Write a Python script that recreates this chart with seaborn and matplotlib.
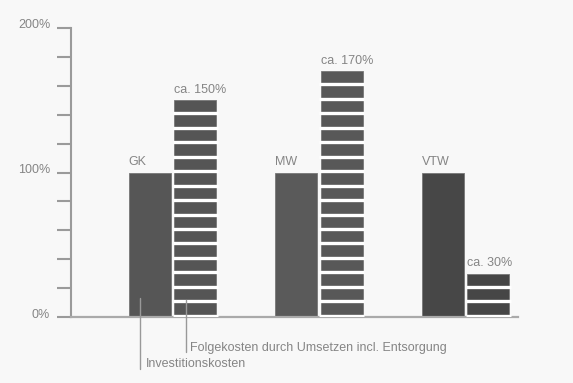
import matplotlib
matplotlib.use("Agg")
import matplotlib.pyplot as plt
import matplotlib.transforms as mtransforms
import numpy as np
import pandas as pd
import seaborn as sns

# Kostenvergleich der Anlagen (Investitionskosten = 100 %)
anlagen = ["GK", "MW", "VTW"]
investition = [100, 100, 100]
folgekosten = [150, 170, 30]
folge_labels = ["ca. 150%", "ca. 170%", "ca. 30%"]
segment = 10                      # Höhe eines Streifens in %
y_ticks = [0, 20, 40, 60, 80, 100, 120, 140, 160, 180, 200]
y_ticklabels = ["0%", "", "", "", "", "100%", "", "", "", "", "200%"]

df = pd.DataFrame({
    "Anlage": anlagen * 2,
    "Wert": investition + folgekosten,
    "Kostenart": ["Investitionskosten"] * 3 + ["Folgekosten"] * 3,
})

sns.set_style("white")
plt.rcParams["font.family"] = ["Liberation Sans", "DejaVu Sans"]

bg = "#f8f8f8"
bar_col = "#555555"
txt_col = "#858585"
axis_col = "#9a9a9a"

fig = plt.figure(figsize=(5.73, 3.83), dpi=100, facecolor=bg)
ax = fig.add_axes([71 / 573, 66 / 383, 447 / 573, 289 / 383], facecolor=bg)

sns.barplot(data=df, x="Anlage", y="Wert", hue="Kostenart",
            palette=[bar_col, bar_col], width=0.62, gap=0.075,
            edgecolor="#777777", linewidth=0.6, legend=False, ax=ax)

n = len(anlagen)
inv_bars = ax.patches[:n]
folge_bars = ax.patches[n:2 * n]
inv_colors = ["#565656", "#5a5a5a", "#474747"]
folge_colors = ["#555555", "#585858", "#464646"]
for p, c in zip(inv_bars, inv_colors):
    p.set_facecolor(c)
for p, c in zip(folge_bars, folge_colors):
    p.set_facecolor(c)

# Folgekosten-Balken in Streifen zu je 10 % teilen
for p, val in zip(folge_bars, folgekosten):
    x0, w = p.get_x(), p.get_width()
    levels = np.arange(0, val, segment)
    ax.hlines(levels + 0.9, x0 - 0.01, x0 + w + 0.01, colors="white",
              linewidth=2.4, zorder=5)

ax.set_xlim(-0.693, 2.358)
ax.set_ylim(0, 200)

# Beschriftungen über den Balken
for p, name in zip(inv_bars, anlagen):
    ax.annotate(name, (p.get_x(), p.get_height()), xytext=(0, 3),
                textcoords="offset points", ha="left", va="bottom",
                fontsize=9, color=txt_col, annotation_clip=False)
for p, lab in zip(folge_bars, folge_labels):
    ax.annotate(lab, (p.get_x(), p.get_height()), xytext=(0, 3),
                textcoords="offset points", ha="left", va="bottom",
                fontsize=9, color=txt_col, annotation_clip=False)

# Achsen
for s in ["top", "right"]:
    ax.spines[s].set_visible(False)
ax.spines["left"].set_color(axis_col)
ax.spines["left"].set_linewidth(1.5)
ax.spines["bottom"].set_color("#aaaaaa")
ax.spines["bottom"].set_linewidth(1.6)
ax.set_xticks([])
ax.set_xlabel("")
ax.set_ylabel("")
ax.set_yticks(y_ticks)
ax.set_yticklabels(y_ticklabels)
ax.tick_params(axis="y", direction="out", length=10, width=1.5,
               color=axis_col, pad=5, labelsize=9, labelcolor=txt_col)
ax.tick_params(axis="y", which="both", left=True)
offset = mtransforms.ScaledTranslation(0, 4 / 100, fig.dpi_scale_trans)
for lbl in ax.get_yticklabels():
    lbl.set_transform(lbl.get_transform() + offset)

# Legende als Hinweislinien
gk_inv, gk_folge = inv_bars[0], folge_bars[0]
x_inv = gk_inv.get_x() + gk_inv.get_width() * 0.26
x_folge = gk_folge.get_x() + gk_folge.get_width() * 0.27
ax.plot([x_inv, x_inv], [13, -36], color="#999999", linewidth=1.0,
        clip_on=False, zorder=6)
ax.plot([x_folge, x_folge], [12, -24], color="#999999", linewidth=1.0,
        clip_on=False, zorder=6)
ax.text(x_inv + 0.04, -32.5, "Investitionskosten", fontsize=9,
        color=txt_col, ha="left", va="center", clip_on=False)
ax.text(x_folge + 0.03, -21.5, "Folgekosten durch Umsetzen incl. Entsorgung",
        fontsize=9, color=txt_col, ha="left", va="center", clip_on=False)

fig.savefig("out.png", dpi=100, facecolor=bg)
